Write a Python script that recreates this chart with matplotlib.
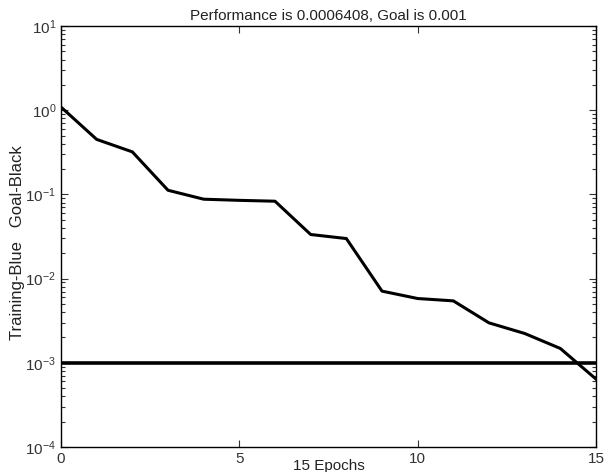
import matplotlib
matplotlib.use('Agg')
import matplotlib.pyplot as plt
from matplotlib.ticker import LogLocator, NullFormatter, FixedLocator

plt.rcParams['font.family'] = ['Liberation Sans', 'DejaVu Sans']
plt.rcParams['mathtext.fontset'] = 'custom'
plt.rcParams['mathtext.rm'] = 'Liberation Sans'
plt.rcParams['mathtext.default'] = 'regular'

# training performance per epoch
epochs = list(range(16))
perf = [1.09, 0.45, 0.32, 0.112, 0.0877, 0.085, 0.083, 0.0334, 0.0299,
        0.0071, 0.0058, 0.00544, 0.00298, 0.00223, 0.00148, 0.0006408]
goal = 0.001

fig = plt.figure(figsize=(6.05, 4.72), dpi=100)
ax = fig.add_axes([61 / 605, 25 / 472, 535 / 605, 421 / 472])

ax.semilogy(epochs, perf, color='black', lw=2.2)
ax.axhline(goal, color='black', lw=2.6)

ax.set_xlim(0, 15)
ax.set_ylim(1e-4, 1e1)
ax.xaxis.set_major_locator(FixedLocator([0, 5, 10, 15]))
ax.yaxis.set_major_locator(LogLocator(base=10, numticks=10))
ax.yaxis.set_minor_locator(LogLocator(base=10, subs=range(2, 10), numticks=20))
ax.yaxis.set_minor_formatter(NullFormatter())

ax.tick_params(which='both', direction='in', top=True, right=True,
               labelsize=11, colors='#333333', labelcolor='#333333')
ax.tick_params(which='major', length=5, width=0.8)
ax.tick_params(which='minor', length=3, width=0.8)
for s in ax.spines.values():
    s.set_linewidth(1.0)

ax.set_title('Performance is 0.0006408, Goal is 0.001', fontsize=11, pad=4,
             color='#222222')
ax.set_xlabel('15 Epochs', fontsize=11, labelpad=-5, color='#222222')
ax.set_ylabel('Training-Blue   Goal-Black', fontsize=12, color='#222222')
ax.yaxis.set_label_coords(-0.067, 0.485)

fig.savefig('out.png', dpi=100)
